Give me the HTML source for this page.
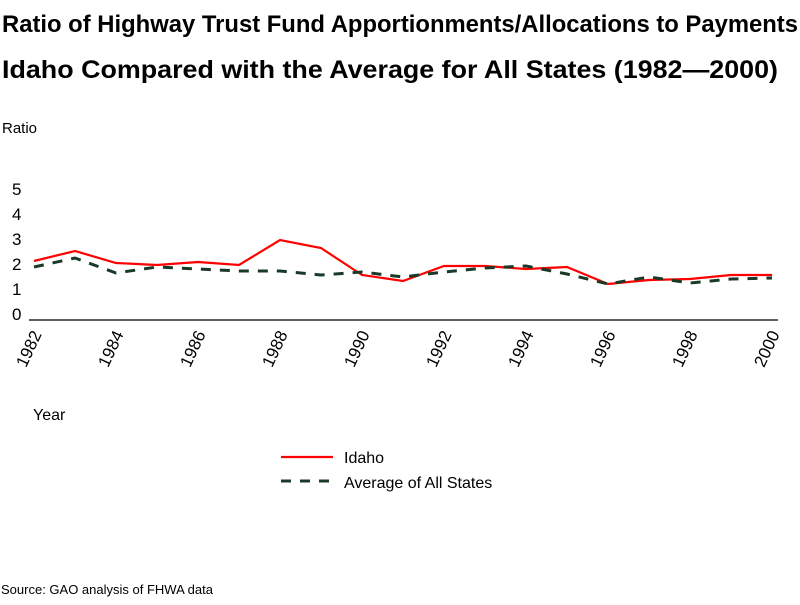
<!DOCTYPE html>
<html><head><meta charset="utf-8"><style>
body{margin:0;background:#fff;width:800px;height:600px;overflow:hidden;font-family:"Liberation Sans",sans-serif}
</style></head><body>
<svg width="800" height="600" xmlns="http://www.w3.org/2000/svg" font-family="Liberation Sans, sans-serif">
<text x="2" y="32" font-size="24" font-weight="bold" textLength="796" lengthAdjust="spacingAndGlyphs">Ratio of Highway Trust Fund Apportionments/Allocations to Payments</text>
<text x="2" y="78" font-size="25" font-weight="bold" textLength="776" lengthAdjust="spacingAndGlyphs">Idaho Compared with the Average for All States (1982—2000)</text>
<text x="2" y="133" font-size="15">Ratio</text>
<g font-size="17" text-anchor="start">
<text x="12" y="195">5</text><text x="12" y="220">4</text><text x="12" y="245">3</text>
<text x="12" y="270">2</text><text x="12" y="295">1</text><text x="12" y="320">0</text>
</g>
<line x1="29" y1="320" x2="778" y2="320" stroke="#000" stroke-width="1.2"/>
<g font-size="17">
<text transform="translate(42,334) rotate(-65)" text-anchor="end">1982</text>
<text transform="translate(124,334) rotate(-65)" text-anchor="end">1984</text>
<text transform="translate(206,334) rotate(-65)" text-anchor="end">1986</text>
<text transform="translate(288,334) rotate(-65)" text-anchor="end">1988</text>
<text transform="translate(370,334) rotate(-65)" text-anchor="end">1990</text>
<text transform="translate(452,334) rotate(-65)" text-anchor="end">1992</text>
<text transform="translate(534,334) rotate(-65)" text-anchor="end">1994</text>
<text transform="translate(616,334) rotate(-65)" text-anchor="end">1996</text>
<text transform="translate(698,334) rotate(-65)" text-anchor="end">1998</text>
<text transform="translate(780,334) rotate(-65)" text-anchor="end">2000</text>
</g>
<polyline fill="none" stroke="#ff0000" stroke-width="2.2" points="34,261 75,251 116,263 157,265 198,262 239,265 280,240 321,248 362,275 403,281 444,266 485,266 526,269 567,267 608,284 649,280 690,279 731,275 772,275"/>
<polyline fill="none" stroke="#1a3a28" stroke-width="3" stroke-dasharray="10,9" points="34,267 75,258 116,273 157,267 198,269 239,271 280,271 321,275 362,272 403,277 444,272 485,268 526,266 567,274 608,284 649,277 690,283 731,279 772,278"/>
<text x="33" y="420" font-size="16">Year</text>
<line x1="281" y1="457" x2="333" y2="457" stroke="#ff0000" stroke-width="2.2"/>
<text x="344" y="463" font-size="16">Idaho</text>
<line x1="281" y1="481" x2="333" y2="481" stroke="#1a3a28" stroke-width="3" stroke-dasharray="10,9"/>
<text x="344" y="488" font-size="16">Average of All States</text>
<text x="1" y="594" font-size="13">Source: GAO analysis of FHWA data</text>
</svg>
</body></html>
